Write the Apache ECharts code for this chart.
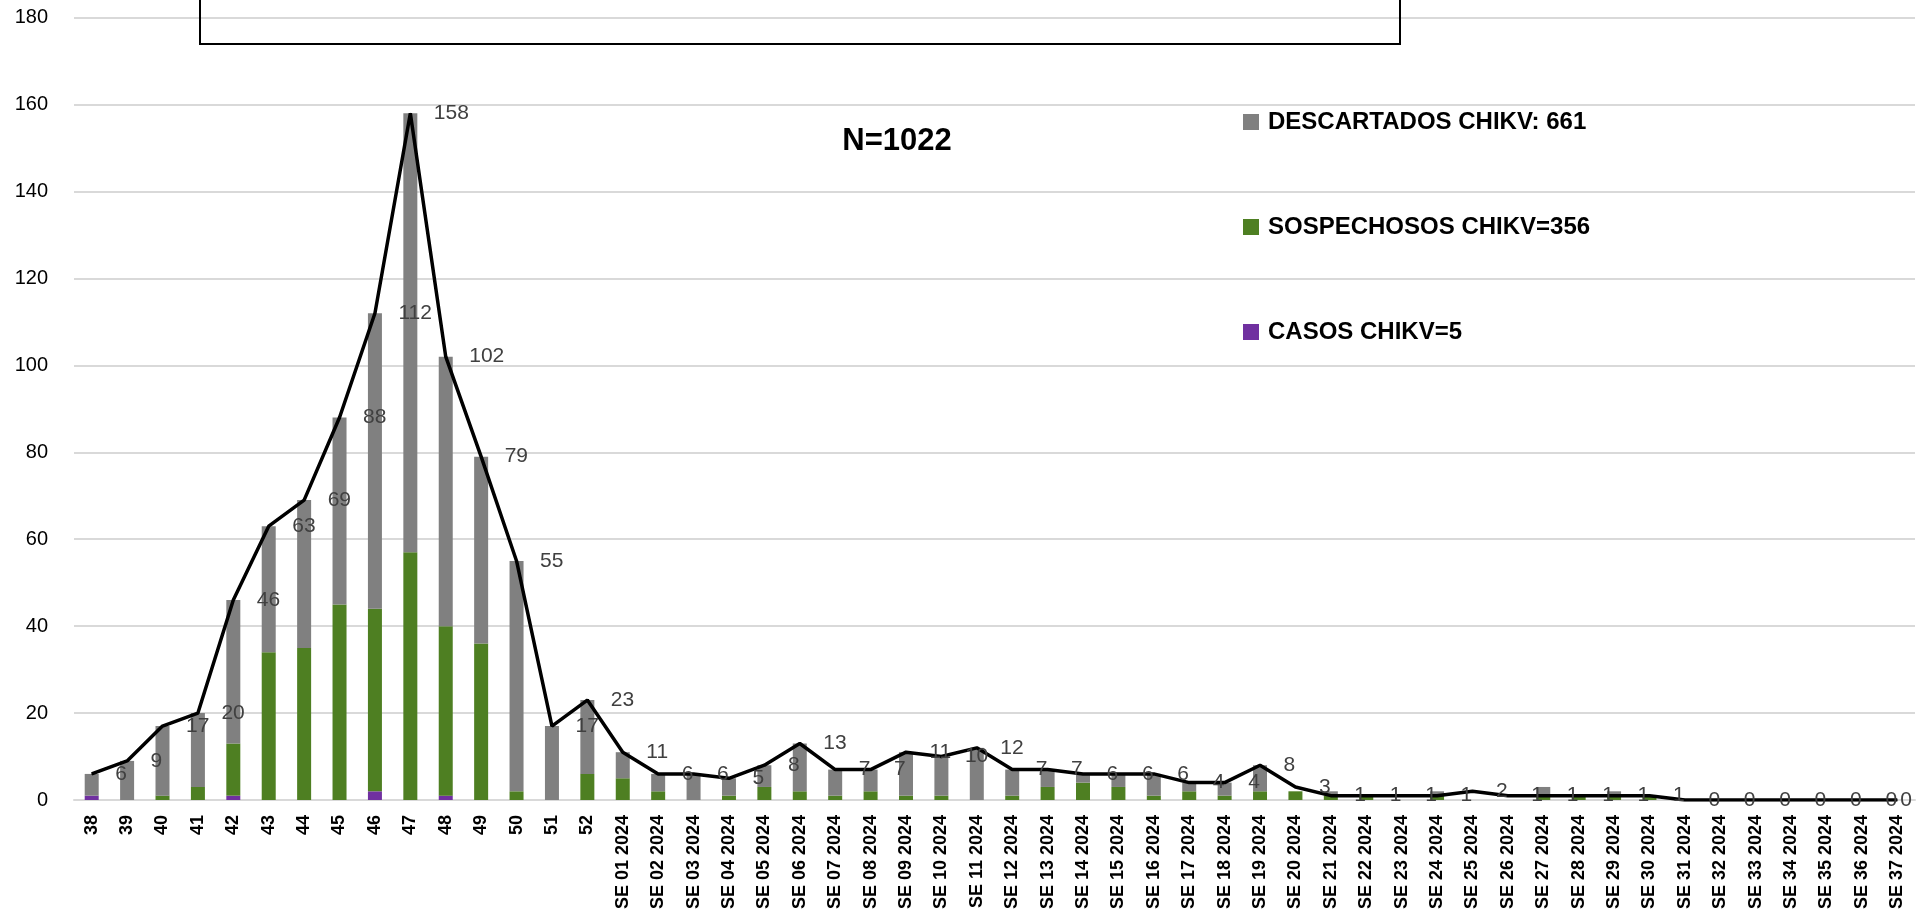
<!DOCTYPE html>
<html>
<head>
<meta charset="utf-8">
<script src="https://cdn.jsdelivr.net/npm/echarts@6/dist/echarts.min.js"></script>
<style>
html,body{margin:0;padding:0;background:#fff;}
#chart{width:1918px;height:913px;}
</style>
</head>
<body>
<div id="chart"></div>
<script>
const categories = ['38','39','40','41','42','43','44','45','46','47','48','49','50','51','52',
  'SE 01 2024','SE 02 2024','SE 03 2024','SE 04 2024','SE 05 2024','SE 06 2024','SE 07 2024','SE 08 2024','SE 09 2024','SE 10 2024',
  'SE 11 2024','SE 12 2024','SE 13 2024','SE 14 2024','SE 15 2024','SE 16 2024','SE 17 2024','SE 18 2024','SE 19 2024','SE 20 2024',
  'SE 21 2024','SE 22 2024','SE 23 2024','SE 24 2024','SE 25 2024','SE 26 2024','SE 27 2024','SE 28 2024','SE 29 2024','SE 30 2024',
  'SE 31 2024','SE 32 2024','SE 33 2024','SE 34 2024','SE 35 2024','SE 36 2024','SE 37 2024'];

const casos = [1,0,0,0,1,0,0,0,2,0,1,0,0,0,0,
  0,0,0,0,0,0,0,0,0,0, 0,0,0,0,0,0,0,0,0,0, 0,0,0,0,0,0,0,0,0,0, 0,0,0,0,0,0,0];

const sospechosos = [0,0,1,3,12,34,35,45,42,57,39,36,2,0,6,
  5,2,0,1,3,2,1,2,1,1, 0,1,3,4,3,1,2,1,2,2, 1,1,0,1,0,0,1,1,1,1, 0,0,0,0,0,0,0];

const descartados = [5,9,16,17,33,29,34,43,68,101,62,43,53,17,17,
  6,4,6,4,5,11,6,5,10,9, 12,6,4,2,3,5,2,3,6,0, 1,0,0,1,0,0,2,0,1,0, 0,0,0,0,0,0,0];

const totales = [6,9,17,20,46,63,69,88,112,158,102,79,55,17,23,
  11,6,6,5,8,13,7,7,11,10, 12,7,7,6,6,6,4,4,8,3, 1,1,1,1,2,1,1,1,1,1, 0,0,0,0,0,0,0];

const seriesNames = ['CASOS CHIKV=5','SOSPECHOSOS CHIKV=356','DESCARTADOS CHIKV: 661'];
const nLabel = 'N=1022';
const yTicks = {min:0, max:180, interval:20};

const chart = echarts.init(document.getElementById('chart'));
const FONT = 'Liberation Sans';
const option = {
  backgroundColor:'#ffffff',
  animation:false,
  grid:{left:74, right:3, top:17.7, bottom:113, containLabel:false, outerBoundsMode:'none'},
  legend:{
    data:[seriesNames[2], seriesNames[1], seriesNames[0]],
    orient:'vertical', left:1243, top:110, itemGap:81,
    itemWidth:16, itemHeight:16, icon:'rect', selectedMode:false, padding:0,
    textStyle:{fontFamily:FONT, fontWeight:'bold', fontSize:24, color:'#000', lineHeight:24, padding:[0,0,0,4]}
  },
  xAxis:{
    type:'category', data:categories, boundaryGap:true,
    axisLine:{show:true, lineStyle:{color:'#d9d9d9', width:2}},
    axisTick:{show:false},
    axisLabel:{rotate:90, interval:0, margin:15, fontFamily:FONT, fontWeight:'bold', fontSize:18, color:'#000'}
  },
  yAxis:{
    type:'value', min:yTicks.min, max:yTicks.max, interval:yTicks.interval,
    axisLine:{show:false}, axisTick:{show:false},
    splitLine:{lineStyle:{color:'#d9d9d9', width:2}},
    axisLabel:{margin:26, fontFamily:FONT, fontSize:20, color:'#000'}
  },
  graphic:[
    {type:'rect', shape:{x:200, y:-10, width:1200, height:54}, style:{fill:'none', stroke:'#000', lineWidth:2}, z:1},
    {type:'text', x:897, y:141, style:{text:nLabel, fontFamily:FONT, fontWeight:'bold', fontSize:31, fill:'#000', align:'center', verticalAlign:'middle'}}
  ],
  series:[
    {name:seriesNames[0], type:'bar', stack:'t', data:casos, barWidth:14, itemStyle:{color:'#7030A0'}},
    {name:seriesNames[1], type:'bar', stack:'t', data:sospechosos, barWidth:14, itemStyle:{color:'#4E7F22'}},
    {name:seriesNames[2], type:'bar', stack:'t', data:descartados, barWidth:14, itemStyle:{color:'#808080'}},
    {name:'Total', type:'line', data:totales, symbol:'circle', symbolSize:1, showSymbol:true,
      lineStyle:{color:'#000', width:3.5}, itemStyle:{color:'#000'}, z:5,
      label:{show:true, position:'right', distance:23, fontFamily:FONT, fontSize:21, color:'#404040'},
      labelLayout:function(p){
        const r = p.labelRect;
        const over = r.x + r.width - 1912;
        if (over > 0) return {dx:-over};
        return {};
      }
    }
  ]
};
chart.setOption(option);
</script>
</body>
</html>
